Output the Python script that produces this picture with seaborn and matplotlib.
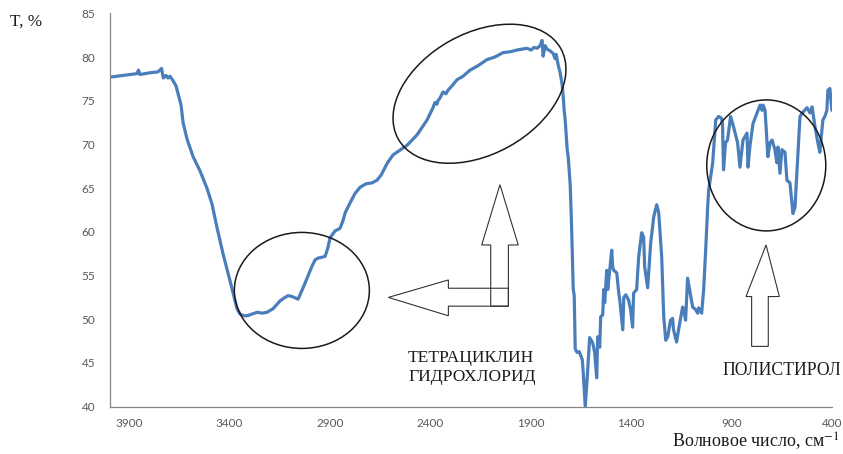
import matplotlib
matplotlib.use("Agg")
import matplotlib.pyplot as plt
import seaborn as sns
import pandas as pd
from matplotlib.patches import Ellipse, Polygon

# IR spectrum: wavenumber (cm^-1) and transmittance (%)
wavenumber = [
    3996, 3946, 3882, 3862, 3854, 3847, 3797, 3757, 3739, 3734, 3730, 3717, 3707, 3697,
    3682, 3667, 3657, 3642, 3632, 3612, 3582, 3548, 3513, 3488, 3463, 3433, 3398, 3373,
    3363, 3348, 3328, 3313, 3288, 3263, 3238, 3214, 3184, 3149, 3124, 3109, 3089, 3059,
    3034, 3009, 2989, 2974, 2959, 2939, 2924, 2910, 2900, 2875, 2850, 2835, 2824, 2800,
    2775, 2750, 2720, 2691, 2666, 2645, 2616, 2586, 2516, 2466, 2416, 2387, 2377, 2367,
    2362, 2352, 2337, 2322, 2312, 2292, 2267, 2237, 2202, 2163, 2118, 2078, 2038, 2003,
    1968, 1943, 1918, 1898, 1883, 1868, 1853, 1843, 1838, 1828, 1818, 1803, 1788, 1778,
    1773, 1763, 1753, 1743, 1738, 1733, 1728, 1723, 1718, 1713, 1703, 1698, 1693, 1688,
    1683, 1678, 1668, 1658, 1643, 1638, 1628, 1618, 1606, 1591, 1581, 1571, 1566, 1556,
    1551, 1541, 1536, 1531, 1521, 1516, 1506, 1496, 1491, 1486, 1471, 1461, 1456, 1441,
    1436, 1426, 1412, 1402, 1392, 1387, 1372, 1362, 1347, 1337, 1332, 1317, 1302, 1287,
    1272, 1262, 1247, 1237, 1227, 1217, 1203, 1193, 1188, 1173, 1163, 1143, 1138, 1128,
    1118, 1108, 1093, 1078, 1068, 1063, 1048, 1038, 1028, 1018, 1013, 993, 978, 963,
    949, 944, 939, 929, 919, 904, 889, 869, 857, 847, 842, 822, 817, 807,
    792, 772, 757, 747, 742, 732, 718, 707, 697, 683, 673, 668, 658, 648,
    633, 623, 608, 593, 583, 568, 558, 543, 523, 508, 498, 483, 469, 459,
    444, 434, 424, 419, 409, 399,
]
transmittance = [
    77.7, 77.85, 78.05, 78.1, 78.5, 78.0, 78.2, 78.3, 78.7, 78.0, 77.6, 77.9, 77.6, 77.8,
    77.3, 76.7, 75.8, 74.5, 72.5, 70.6, 68.6, 67.0, 65.0, 63.2, 60.5, 57.5, 54.4, 52.1,
    51.2, 50.6, 50.4, 50.4, 50.6, 50.8, 50.7, 50.8, 51.2, 52.1, 52.5, 52.7, 52.6, 52.3,
    53.6, 55.0, 56.1, 56.8, 57.0, 57.1, 57.2, 58.2, 59.3, 60.1, 60.4, 61.3, 62.2, 63.3,
    64.4, 65.1, 65.5, 65.6, 65.9, 66.5, 67.8, 68.8, 69.9, 71.1, 72.8, 74.2, 74.8, 74.6,
    75.0, 75.3, 76.0, 75.8, 76.2, 76.7, 77.4, 77.8, 78.5, 79.0, 79.7, 80.0, 80.5, 80.6,
    80.8, 80.9, 81.0, 80.8, 81.1, 81.0, 81.3, 81.9, 80.1, 81.3, 80.9, 80.7, 80.4, 79.8,
    80.3, 79.1, 78.2, 76.8, 75.5, 73.9, 72.8, 71.1, 69.4, 68.6, 65.4, 62.0, 58.0, 53.5,
    52.7, 46.6, 46.2, 46.3, 45.4, 43.9, 40.0, 43.4, 47.9, 47.3, 46.2, 43.3, 48.0, 46.8,
    50.3, 50.5, 53.4, 51.9, 55.6, 53.4, 55.6, 57.9, 55.9, 55.6, 55.3, 53.0, 52.2, 48.8,
    52.5, 52.8, 52.2, 51.1, 49.1, 53.0, 53.4, 57.1, 59.9, 59.4, 56.0, 53.6, 58.7, 61.7,
    63.1, 62.2, 57.1, 50.3, 47.6, 48.0, 49.9, 50.1, 48.8, 47.4, 48.8, 51.4, 51.1, 49.9,
    54.7, 53.4, 51.4, 51.1, 50.7, 51.3, 50.7, 53.4, 57.9, 62.9, 64.8, 67.9, 72.8, 73.2,
    73.0, 72.3, 67.1, 70.2, 70.5, 73.2, 72.0, 70.2, 67.4, 69.4, 70.5, 71.3, 67.4, 69.9,
    72.4, 73.6, 74.5, 73.9, 74.5, 73.9, 68.6, 70.2, 70.5, 69.4, 67.9, 69.7, 66.7, 69.4,
    69.1, 65.9, 65.6, 62.1, 62.8, 69.0, 73.2, 73.7, 74.2, 73.6, 74.3, 72.0, 70.2, 69.1,
    72.8, 73.2, 73.9, 76.2, 76.4, 73.9,
]

x_ticks = [3900, 3400, 2900, 2400, 1900, 1400, 900, 400]
y_ticks = [40, 45, 50, 55, 60, 65, 70, 75, 80, 85]
y_label = "T, %"
x_label = "Волновое число, см$^{-1}$"
label_tc = ["ТЕТРАЦИКЛИН", "ГИДРОХЛОРИД"]
label_ps = "ПОЛИСТИРОЛ"

sns.set_style("white")
plt.rcParams["font.family"] = ["Lato", "DejaVu Sans"]
plt.rcParams["mathtext.fontset"] = "stix"

df = pd.DataFrame({"w": wavenumber, "T": transmittance})

fig = plt.figure(figsize=(8.43, 4.54), dpi=100)
ax = fig.add_axes([0.1305, 0.1042, 0.8561, 0.8665])

sns.lineplot(data=df, x="w", y="T", ax=ax, sort=False, estimator=None,
             color="#4A7EBB", linewidth=2.3)

ax.set_xlim(3996, 400)
ax.set_ylim(40, 85)
ax.set_xticks(x_ticks)
ax.set_yticks(y_ticks)
ax.set_xlabel("")
ax.set_ylabel("")
for side in ("top", "right"):
    ax.spines[side].set_visible(False)
for side in ("left", "bottom"):
    ax.spines[side].set_color("#868686")
    ax.spines[side].set_linewidth(0.9)
ax.tick_params(axis="both", direction="out", length=3.5, width=0.9,
               color="#868686", labelcolor="#595959", labelsize=8.5)
ax.tick_params(axis="y", pad=7)
ax.tick_params(axis="x", pad=5)

# highlighted regions
ink = "#1a1a1a"
to_inch = fig.dpi_scale_trans.inverted()


def ring(center, w_in, h_in, angle=0.0):
    cx, cy = to_inch.transform(ax.transData.transform(center))
    e = Ellipse((cx, cy), w_in, h_in, angle=angle, transform=fig.dpi_scale_trans,
                fill=False, edgecolor=ink, linewidth=1.1, zorder=5)
    fig.add_artist(e)


ring((3040, 53.3), 1.35, 1.16)
ring((2155, 75.8), 1.86, 1.21, angle=29)
ring((726, 67.6), 1.19, 1.31)

# block arrows pointing at the regions
arrow_left = [(2609, 52.5), (2310, 54.5), (2310, 53.55), (2011, 53.55),
              (2011, 51.5), (2310, 51.5), (2310, 50.4)]
arrow_up = [(2053, 65.4), (2144, 58.5), (2099, 58.5), (2099, 51.5),
            (2011, 51.5), (2011, 58.5), (1962, 58.5)]
arrow_ps = [(727, 58.5), (827, 52.6), (799, 52.6), (799, 46.9),
            (716, 46.9), (716, 52.6), (661, 52.6)]
for pts in (arrow_left, arrow_up, arrow_ps):
    ax.add_patch(Polygon(pts, closed=True, fill=False, edgecolor="#333333",
                         linewidth=0.8, zorder=5))

serif = ["Liberation Serif", "DejaVu Serif"]
for line, t in zip(label_tc, (45.6, 43.4)):
    ax.text(2511, t, line, family=serif, fontsize=12.6, color="#1a1a1a",
            ha="left", va="center")
ax.text(942, 44.1, label_ps, family=serif, fontsize=12.7, color="#1a1a1a",
        ha="left", va="center")

fig.text(10 / 843, 1 - 22 / 454, y_label, family=serif, fontsize=12.3,
         color="#1a1a1a", ha="left", va="center")
fig.text(672 / 843, 1 - 441 / 454, x_label, family=serif, fontsize=13,
         color="#1a1a1a", ha="left", va="center")

fig.savefig("out.png", dpi=100)
